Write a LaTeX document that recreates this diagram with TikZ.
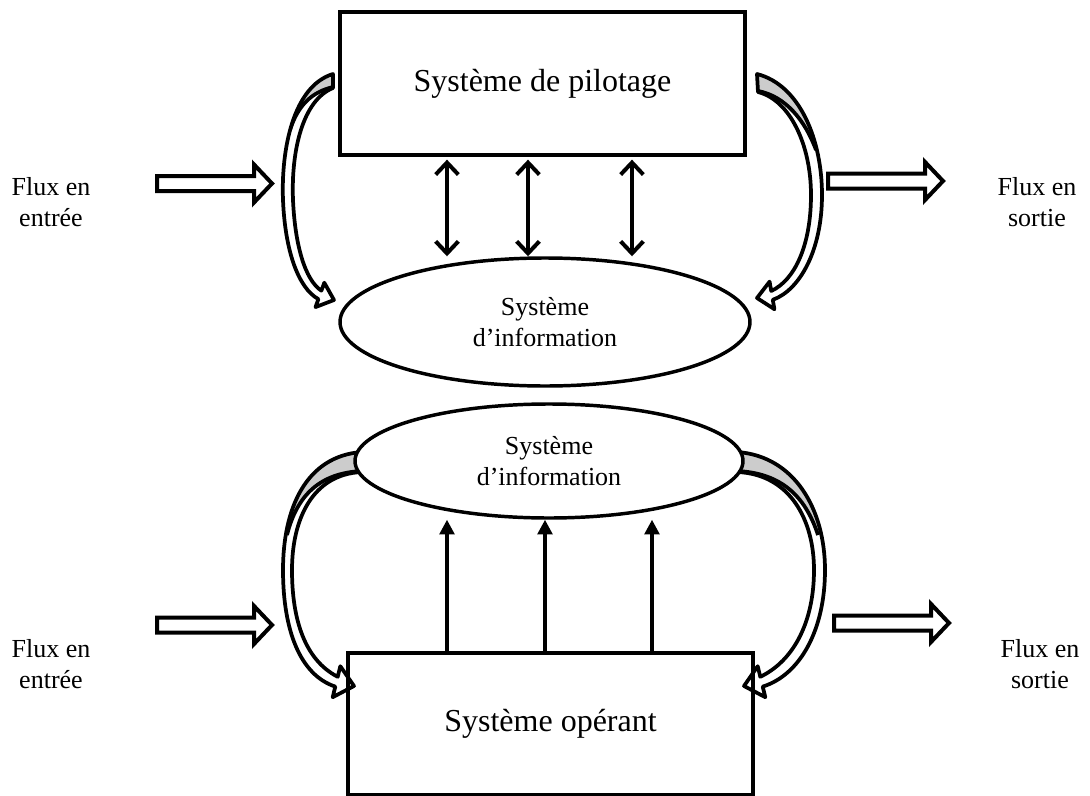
\documentclass[tikz,border=0pt]{standalone}
\usepackage{fontspec}
\setmainfont{Liberation Serif}
\usetikzlibrary{arrows.meta,shapes.geometric}

\definecolor{facegrey}{gray}{0.8}

\tikzset{
  sysbox/.style={draw, line width=3pt, inner sep=0pt, minimum width=303.75pt,
    font=\fontsize{24}{28}\selectfont},
  infoell/.style={ellipse, draw, fill=white, line width=2.6pt, inner sep=0pt,
    align=center, font=\fontsize{19.5}{23.25}\selectfont},
  fluxtext/.style={align=center, font=\fontsize{19.5}{23.25}\selectfont, inner sep=0pt},
  exchange/.style={line width=3pt, >={Straight Barb[length=9pt,width=17pt]}, <->},
  upward/.style={line width=2.6pt, -{Triangle[length=11pt,width=11pt]}},
  bandline/.style={line width=2.8pt, line join=round},
  flowarrow/.pic={
    \draw[line width=3pt, fill=white]
      (0,-7.5) -- (97,-7.5) -- (97,-19) -- (115,0) -- (97,19) -- (97,7.5) -- (0,7.5) -- cycle;
  }
}

% curved block arrows, written as closed outlines
\newcommand\bandTL[1]{\path[#1] (333,74) .. controls (293,86) and (281,150) .. (283,200)
  .. controls (285,250) and (298,288) .. (318.4,299.1) -- (315.5,307.1) -- (334,300)
  -- (324.3,282.7) -- (321.4,290.7) .. controls (305,280) and (295,245) .. (293,200)
  .. controls (291,150) and (303,100) .. (333,88) -- cycle;}
\newcommand\bandTR[1]{\path[#1] (757,74) .. controls (800,85) and (822,140) .. (822,195)
  .. controls (822,250) and (800,290) .. (772.8,299.8) -- (774.4,309.2) -- (757,298)
  -- (769.6,281.6) -- (771.2,291) .. controls (795,280) and (811,245) .. (811,195)
  .. controls (811,145) and (790,100) .. (758,92) -- cycle;}
\newcommand\bandBL[1]{\path[#1] (362,452) .. controls (305,456) and (283,510) .. (283,570)
  .. controls (283,630) and (300,675) .. (335.3,686.6) -- (332.7,697.2) -- (354,686)
  -- (340.3,666.2) -- (337.7,676.8) .. controls (305,660) and (292,620) .. (292,570)
  .. controls (292,520) and (312,474) .. (362,472) -- cycle;}
\newcommand\bandBR[1]{\path[#1] (737,452) .. controls (795,456) and (825,510) .. (825,570)
  .. controls (825,630) and (800,675) .. (762.7,686.6) -- (765.3,697.2) -- (744,686)
  -- (757.7,666.2) -- (760.3,676.8) .. controls (795,660) and (814,620) .. (814,570)
  .. controls (814,520) and (790,474) .. (737,472) -- cycle;}

\begin{document}
\begin{tikzpicture}[x=0.75pt, y=-0.75pt]
\useasboundingbox (0,0) rectangle (1090,796);

% ---------- curved block arrows ----------
\bandTL{fill=white}
\begin{scope}
  \bandTL{clip}
  \fill[facegrey] (333,87) .. controls (312,92) and (298,105) .. (290,130) -- (250,130) -- (250,50) -- (340,50) -- cycle;
  \draw[bandline] (333,87) .. controls (312,92) and (298,105) .. (290,130);
\end{scope}
\bandTL{draw, bandline}

\bandTR{fill=white}
\begin{scope}
  \bandTR{clip}
  \fill[facegrey] (758,91) .. controls (785,96) and (805,120) .. (816,150) -- (850,150) -- (850,50) -- (750,50) -- cycle;
  \draw[bandline] (758,91) .. controls (785,96) and (805,120) .. (816,150);
\end{scope}
\bandTR{draw, bandline}

\bandBL{fill=white}
\begin{scope}
  \bandBL{clip}
  \fill[facegrey] (362,471) .. controls (320,473) and (297,495) .. (287,535) -- (250,535) -- (250,430) -- (370,430) -- cycle;
  \draw[bandline] (362,471) .. controls (320,473) and (297,495) .. (287,535);
\end{scope}
\bandBL{draw, bandline}

\bandBR{fill=white}
\begin{scope}
  \bandBR{clip}
  \fill[facegrey] (737,471) .. controls (780,473) and (805,495) .. (818,535) -- (860,535) -- (860,430) -- (730,430) -- cycle;
  \draw[bandline] (737,471) .. controls (780,473) and (805,495) .. (818,535);
\end{scope}
\bandBR{draw, bandline}

% ---------- systems ----------
\node[sysbox, minimum height=107.25pt] (pil) at (542.5,83.5) {Système de pilotage};
\node[infoell, minimum width=307.5pt, minimum height=96pt] (si1) at (545,322)
  {Système\\d’information};
\node[infoell, minimum width=291pt, minimum height=85.5pt] (si2) at (549,461)
  {Système\\d’information};
\node[sysbox, minimum height=106.5pt] (op) at (550.5,724) {Système opérant};

% ---------- exchanges between the systems ----------
\coordinate (e1) at (447,0);
\coordinate (e2) at (528,0);
\coordinate (e3) at (632,0);
\foreach \c in {e1,e2,e3}
  \draw[exchange, shorten <=2pt] (pil.south -| \c) -- (\c |- si1.north);

\coordinate (u1) at (447,0);
\coordinate (u2) at (545,0);
\coordinate (u3) at (652,0);
\foreach \c in {u1,u2,u3}
  \draw[upward] (op.north -| \c) -- (\c |- si2.south);

% ---------- incoming and outgoing flows ----------
\pic at (157,183.5) {flowarrow};
\pic at (828,181) {flowarrow};
\pic at (157,625) {flowarrow};
\pic at (834,623) {flowarrow};

\node[fluxtext] (in1) at (51,202) {Flux en\\entrée};
\node[fluxtext] (out1) at (1037,202) {Flux en\\sortie};
\node[fluxtext] (in2) at (51,664) {Flux en\\entrée};
\node[fluxtext] (out2) at (1040,664) {Flux en\\sortie};
\end{tikzpicture}
\end{document}
